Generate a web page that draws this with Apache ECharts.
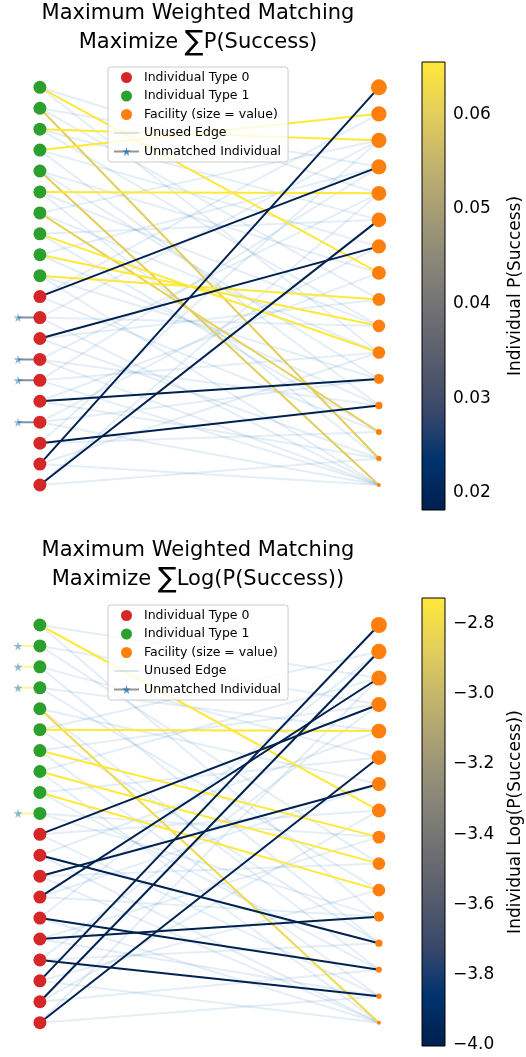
<!DOCTYPE html>
<html>
<head>
<meta charset="utf-8">
<script src="https://cdn.jsdelivr.net/npm/echarts@6/dist/echarts.min.js"></script>
<style>
  html, body { margin: 0; padding: 0; background: #fff; }
  #chart { width: 526px; height: 1057px; }
</style>
</head>
<body>
<div id="chart"></div>
<script>
  // individuals, top to bottom: 1 = type 1 (green), 0 = type 0 (red)
  const leftTypes = [1,1,1,1,1,1,1,1,1,1, 0,0,0,0,0,0,0,0,0,0];
  // facility values (marker area), top to bottom
  const facilityValues = [100, 92, 90, 88, 86, 84, 78, 76, 64, 62, 62, 40, 21, 14, 11, 6];

  // top panel: individual P(Success), matched facility (-1 = unmatched), unused edges [individual, facility]
  const topProb = [0.0655, 0.0600, 0.0655, 0.0655, 0.0598, 0.0655, 0.0605, 0.0655, 0.0655, 0.0655,
                   0.0185, 0.0185, 0.0185, 0.0185, 0.0185, 0.0185, 0.0185, 0.0185, 0.0185, 0.0185];
  const topMatch = [7, 14, 2, 1, 15, 4, 13, 10, 9, 8, 3, -1, 6, -1, -1, 11, -1, 12, 0, 5];
  const topUnused = [[0,4],[0,10],[1,3],[1,8],[2,5],[2,9],[3,6],[3,12],[4,7],[4,11],[5,9],[5,14],
                     [6,2],[6,10],[7,5],[7,13],[8,3],[8,12],[9,11],[9,15],[10,1],[10,13],[11,2],[11,9],
                     [11,15],[12,8],[12,14],[13,4],[13,12],[13,15],[14,3],[14,10],[14,15],[15,7],[15,14],
                     [16,6],[16,11],[16,15],[17,2],[17,13],[18,10],[18,15],[19,4],[19,14]];
  const topRange = [0.0182, 0.0655];
  const topTicks = [0.02, 0.03, 0.04, 0.05, 0.06];

  // bottom panel: individual Log(P(Success))
  const bottomLogProb = [-2.726, -2.73, -2.73, -2.73, -2.81, -2.726, -2.726, -2.726, -2.726, -2.73,
                         -3.99, -3.99, -3.99, -3.99, -3.99, -3.99, -3.99, -3.99, -3.99, -3.99];
  const bottomMatch = [7, -1, -1, -1, 15, 4, 8, 9, 10, -1, 3, 12, 6, 2, 13, 11, 14, 0, 1, 5];
  const bottomUnused = [[0,2],[0,11],[1,3],[1,9],[2,5],[2,12],[3,4],[3,10],[4,6],[4,13],[5,1],[5,12],
                        [6,3],[6,14],[7,2],[7,15],[8,5],[8,13],[9,8],[9,11],[10,7],[10,14],[11,4],[11,15],
                        [12,9],[12,15],[13,6],[13,11],[14,1],[14,15],[15,8],[15,14],[16,3],[16,12],[17,10],
                        [17,15],[18,7],[18,13],[19,2],[19,14]];
  const bottomRange = [-4.005, -2.726];
  const bottomTicks = [-4.0, -3.8, -3.6, -3.4, -3.2, -3.0, -2.8];

  const FONT = 'DejaVu Sans';
  const STAR = 'path://M50,0 L61,35 L98,35 L68,57 L79,91 L50,70 L21,91 L32,57 L2,35 L39,35 Z';
  const STAR_X = -0.0646;
  const UNUSED_COLOR = 'rgba(31,119,180,0.12)';
  const cividisStops = ['#00204d', '#00336f', '#39486b', '#575c6d', '#707173',
                        '#8a8779', '#a69d75', '#c4b56c', '#e4cf5b', '#fee838'];

  function hexToRgb(h) {
    return [parseInt(h.slice(1,3),16), parseInt(h.slice(3,5),16), parseInt(h.slice(5,7),16)];
  }
  function cividis(t, alpha) {
    t = Math.max(0, Math.min(1, t));
    const p = t * (cividisStops.length - 1);
    const i = Math.min(Math.floor(p), cividisStops.length - 2);
    const f = p - i;
    const a = hexToRgb(cividisStops[i]), b = hexToRgb(cividisStops[i + 1]);
    const c = a.map((v, k) => Math.round(v + (b[k] - v) * f));
    return 'rgba(' + c.join(',') + ',' + (alpha == null ? 1 : alpha) + ')';
  }
  const ly = i => i / (leftTypes.length - 1);
  const ry = j => j / (facilityValues.length - 1);

  function panelSeries(g, vals, match, unused, range) {
    const norm = v => (v - range[0]) / (range[1] - range[0]);
    const out = [];
    unused.forEach(e => {
      out.push({
        type: 'line', name: 'Unused Edge', xAxisIndex: g, yAxisIndex: g, z: 1,
        data: [[0, ly(e[0])], [1, ry(e[1])]], symbol: 'circle', symbolSize: 0, showSymbol: false,
        itemStyle: { color: 'rgba(0,0,0,0)' },
        lineStyle: { color: UNUSED_COLOR, width: 2 }
      });
    });
    match.forEach((j, i) => {
      if (j >= 0) {
        out.push({
          type: 'line', name: 'Matched Edge', xAxisIndex: g, yAxisIndex: g, z: 2,
          data: [[0, ly(i)], [1, ry(j)]], symbol: 'none',
          lineStyle: { color: cividis(norm(vals[i])), width: 2 }
        });
      } else {
        out.push({
          type: 'line', name: 'Unmatched Individual', xAxisIndex: g, yAxisIndex: g, z: 2,
          data: [{ value: [STAR_X, ly(i)] }, { value: [0, ly(i)], symbol: 'none' }],
          symbol: STAR, symbolSize: 9, showSymbol: true,
          itemStyle: { color: 'rgba(31,119,180,0.5)', borderWidth: 0 },
          lineStyle: { color: cividis(norm(vals[i]), 0.5), width: 2 }
        });
      }
    });
    const reds = [], greens = [];
    leftTypes.forEach((t, i) => (t === 0 ? reds : greens).push([0, ly(i)]));
    out.push({ type: 'scatter', name: 'Individual Type 0', xAxisIndex: g, yAxisIndex: g, z: 4,
               data: reds, symbolSize: 13, itemStyle: { color: '#d62728', opacity: 1 } });
    out.push({ type: 'scatter', name: 'Individual Type 1', xAxisIndex: g, yAxisIndex: g, z: 4,
               data: greens, symbolSize: 13, itemStyle: { color: '#2ca02c', opacity: 1 } });
    out.push({ type: 'scatter', name: 'Facility (size = value)', xAxisIndex: g, yAxisIndex: g, z: 4,
               data: facilityValues.map((v, j) => [1, ry(j), v]),
               symbolSize: d => 1.6 * Math.sqrt(d[2]), itemStyle: { color: '#ff7f0e', opacity: 1 } });
    return out;
  }

  function colorbarSeries(g, range) {
    const stops = cividisStops.map((c, i) => ({ offset: i / (cividisStops.length - 1), color: c }));
    return {
      type: 'custom', xAxisIndex: g, yAxisIndex: g, silent: true, data: [[0]],
      renderItem: (params, api) => {
        const p0 = api.coord([0, range[0]]);
        const p1 = api.coord([1, range[1]]);
        return {
          type: 'rect',
          shape: { x: p0[0], y: p1[1], width: p1[0] - p0[0], height: p0[1] - p1[1] },
          style: { fill: { type: 'linear', x: 0, y: 1, x2: 0, y2: 0, colorStops: stops },
                   stroke: '#000', lineWidth: 1 }
        };
      }
    };
  }

  const panelX = { type: 'value', min: -0.1, max: 1.05, show: false };
  const panelY = { type: 'value', min: 0, max: 1, inverse: true, show: false };
  function cbY(range, ticks, name, fmt, gap) {
    return {
      type: 'value', min: range[0], max: range[1], position: 'right',
      axisLine: { show: false }, splitLine: { show: false },
      axisTick: { show: true, length: 4, customValues: ticks, lineStyle: { color: '#000' } },
      axisLabel: { customValues: ticks, formatter: fmt, margin: 8, color: '#000',
                   fontSize: 17, fontFamily: FONT },
      name: name, nameLocation: 'middle', nameRotate: 90, nameGap: gap,
      nameTextStyle: { fontSize: 17, fontFamily: FONT, color: '#000' }
    };
  }

  const legendItems = [
    { name: 'Individual Type 0', icon: 'circle' },
    { name: 'Individual Type 1', icon: 'circle' },
    { name: 'Facility (size = value)', icon: 'circle' },
    { name: 'Unused Edge', itemStyle: { color: 'rgba(0,0,0,0)', opacity: 0 },
      lineStyle: { color: 'rgba(31,119,180,0.18)', width: 2 } },
    { name: 'Unmatched Individual', lineStyle: { color: '#9a978d', width: 2 },
      itemStyle: { color: 'rgba(31,119,180,0.8)' } }
  ];
  function legendAt(top) {
    return {
      orient: 'vertical', left: 108, top: top, padding: [4, 7, 4, 5],
      itemWidth: 25, itemHeight: 11, itemGap: 5.5, itemTextGap: 12,
      backgroundColor: 'rgba(255,255,255,0.8)', borderColor: '#cccccc', borderWidth: 1, borderRadius: 3,
      textStyle: { fontSize: 12.5, fontFamily: FONT, color: '#000', lineHeight: 13 },
      selectedMode: false, data: legendItems
    };
  }

  function titleText(x, y, txt, size) {
    return {
      type: 'text', x: x, y: y, silent: true,
      style: { text: txt, fill: '#000', fontSize: size, fontFamily: FONT,
               align: 'center', verticalAlign: 'middle', textAlign: 'center', textVerticalAlign: 'middle',
               rich: { s: { fontSize: 28, fontFamily: FONT, fill: '#000' },
                       t: { fontSize: size, fontFamily: FONT, fill: '#000' } } }
    };
  }

  const chart = echarts.init(document.getElementById('chart'));
  chart.setOption({
    animation: false,
    backgroundColor: '#fff',
    grid: [
      { left: 6, width: 389.85, top: 87.3, height: 397.7 },
      { left: 6, width: 389.85, top: 625, height: 397.7 },
      { left: 422, width: 23, top: 62, height: 448 },
      { left: 422, width: 23, top: 598, height: 448 }
    ],
    xAxis: [panelX, panelX,
            { type: 'value', min: 0, max: 1, show: false },
            { type: 'value', min: 0, max: 1, show: false }].map((a, i) => Object.assign({}, a, { gridIndex: i })),
    yAxis: [panelY, panelY,
            cbY(topRange, topTicks, 'Individual P(Success)', v => v.toFixed(2), 62),
            cbY(bottomRange, bottomTicks, 'Individual Log(P(Success))',
                v => (v < 0 ? '\u2212' : '') + Math.abs(v).toFixed(1), 62)
           ].map((a, i) => Object.assign({}, a, { gridIndex: i })),
    legend: [legendAt(67), legendAt(605)],
    graphic: [
      titleText(198, 14, 'Maximum Weighted Matching', 21),
      titleText(198, 43, '{t|Maximize }{s|\u2211}{t|P(Success)}', 21),
      titleText(198, 551, 'Maximum Weighted Matching', 21),
      titleText(198, 580, '{t|Maximize }{s|\u2211}{t|Log(P(Success))}', 21)
    ],
    series: [].concat(
      panelSeries(0, topProb, topMatch, topUnused, topRange),
      panelSeries(1, bottomLogProb, bottomMatch, bottomUnused, bottomRange),
      [colorbarSeries(2, topRange), colorbarSeries(3, bottomRange)]
    )
  });
</script>
</body>
</html>
